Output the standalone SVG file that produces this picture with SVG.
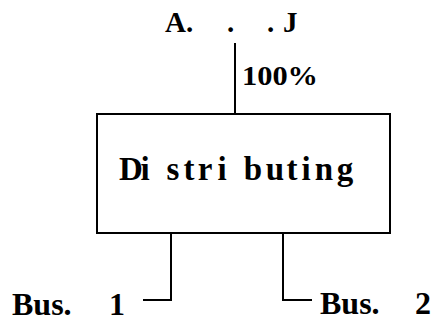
<svg xmlns="http://www.w3.org/2000/svg" width="438" height="325" viewBox="0 0 438 325">
<style>
.t{font-family:'Liberation Serif','DejaVu Serif',serif;font-weight:bold;fill:#000}
.c{fill:none;stroke:#000;stroke-width:2}
</style>
<rect width="438" height="325" fill="#fff"/>
<g id="input">
<text class="t" font-size="29" x="165 186 227 267 283" y="32">A...J</text>
</g>
<g id="distributing">
<rect class="c" x="97" y="114" width="293" height="119"/>
<text class="t" font-size="33" text-anchor="middle" x="131 145 173 189 205 222 253 275 292 306 324 345" y="180">Distributing</text>
</g>
<g id="bus1">
<text class="t" font-size="32" y="315"><tspan x="12">Bus.</tspan><tspan x="109">1</tspan></text>
</g>
<g id="bus2">
<text class="t" font-size="32" y="314"><tspan x="320">Bus.</tspan><tspan x="415">2</tspan></text>
</g>
<g id="connectors">
<path class="c" d="M235 43V114"/>
<text class="t" font-size="28" x="242" y="85" textLength="76" lengthAdjust="spacingAndGlyphs">100%</text>
<path class="c" d="M171 233V300H143"/>
<path class="c" d="M283 233V300H312"/>
</g>
</svg>
